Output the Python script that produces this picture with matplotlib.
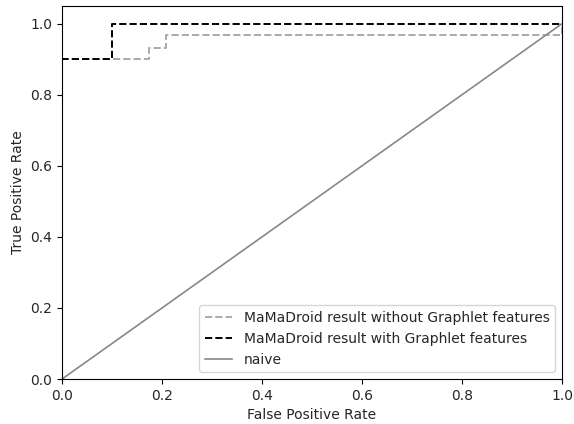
import matplotlib
matplotlib.use("Agg")
import matplotlib.pyplot as plt

fpr_without = [0.0, 0.0, 0.174, 0.174, 0.208, 0.208, 1.0, 1.0]
tpr_without = [0.0, 0.9, 0.9, 0.933, 0.933, 0.967, 0.967, 1.0]
fpr_with = [0.0, 0.0, 0.1, 0.1, 1.0]
tpr_with = [0.0, 0.9, 0.9, 1.0, 1.0]
naive_x = [0.0, 1.0]
naive_y = [0.0, 1.0]

fig = plt.figure(figsize=(5.74, 4.24), dpi=100)
ax = fig.add_axes([0.108, 0.106, 0.871, 0.880])
ax.plot(fpr_without, tpr_without, linestyle='--', color='#aaaaaa', lw=1.4,
        label='MaMaDroid result without Graphlet features')
ax.plot(fpr_with, tpr_with, linestyle='--', color='black', lw=1.4,
        label='MaMaDroid result with Graphlet features')
ax.plot(naive_x, naive_y, linestyle='-', color='#888888', lw=1.2, label='naive')
ax.set_xlim(0, 1.0)
ax.set_ylim(0, 1.05)
ax.set_xlabel('False Positive Rate', color='#262626')
ax.set_ylabel('True Positive Rate', color='#262626')
ax.tick_params(labelcolor='#262626')
leg = ax.legend(loc='lower right')
for t in leg.get_texts():
    t.set_color('#262626')
fig.savefig('out.png', dpi=100)
